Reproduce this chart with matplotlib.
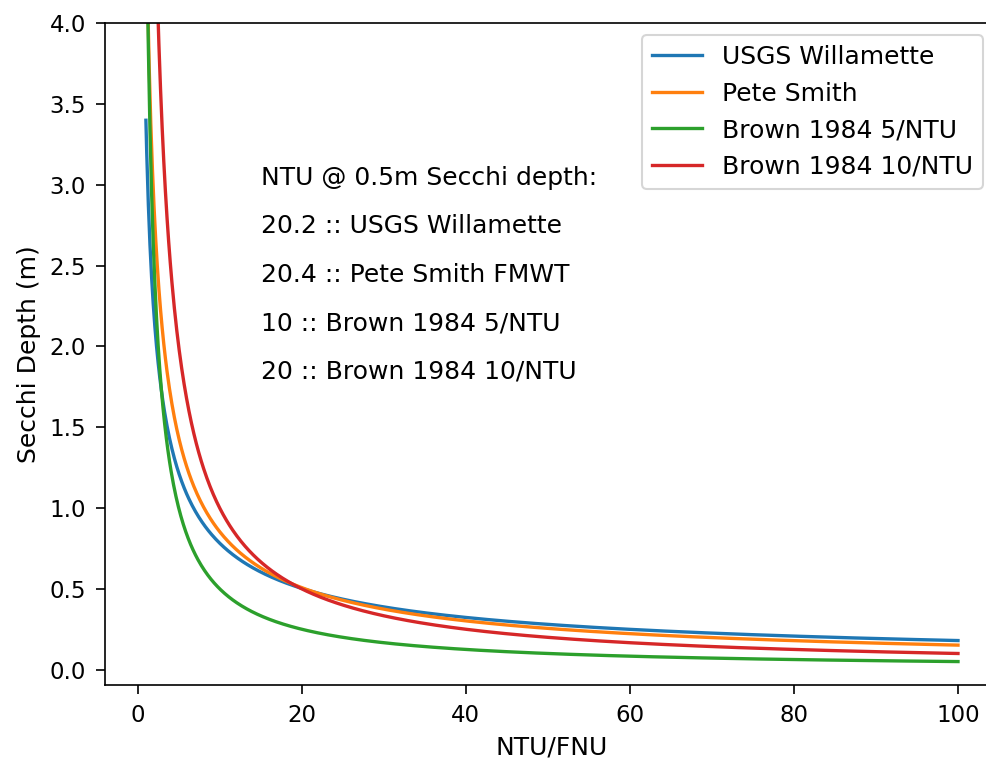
import numpy as np
import matplotlib
matplotlib.use("Agg")
import matplotlib.pyplot as plt

# Model curves: Secchi = coef * NTU ** expo  (parameters)
series_names = ["USGS Willamette", "Pete Smith", "Brown 1984 5/NTU", "Brown 1984 10/NTU"]
series_coef = [3.4, 4.8, 5.0, 10.0]
series_expo = [-0.638, -0.75, -1.0, -1.0]
ntu_start = 1
ntu_end = 100
ntu_count = 1000

annot_lines = [
    "NTU @ 0.5m Secchi depth:",
    "20.2 :: USGS Willamette",
    "20.4 :: Pete Smith FMWT",
    "10 :: Brown 1984 5/NTU",
    "20 :: Brown 1984 10/NTU",
]
annot_x = 15
annot_y = [3.0, 2.7, 2.4, 2.1, 1.8]

ntu = np.linspace(ntu_start, ntu_end, ntu_count)

fig = plt.figure(figsize=(986 / 150, 762 / 150), dpi=150)
ax = fig.add_axes([105.3 / 986, 77 / 762, (998.6 - 105.3) / 986, (685 - 23.3) / 762])

for name, c, e in zip(series_names, series_coef, series_expo):
    ax.plot(ntu, c * ntu ** e, label=name, lw=1.6)

for t, y in zip(annot_lines, annot_y):
    ax.text(annot_x, y, t, fontsize=12)

ax.set_xlim(-3.95, 104.95)
ax.set_ylim(-0.095, 4.0)
ax.set_xlabel("NTU/FNU", fontsize=12)
ax.set_ylabel("Secchi Depth (m)", fontsize=12)
ax.tick_params(labelsize=11, length=4.2, pad=5)
ax.legend(loc="upper right", fontsize=12, bbox_to_anchor=(0.9825, 0.9823), borderaxespad=0)

fig.savefig("out.png", dpi=150)
